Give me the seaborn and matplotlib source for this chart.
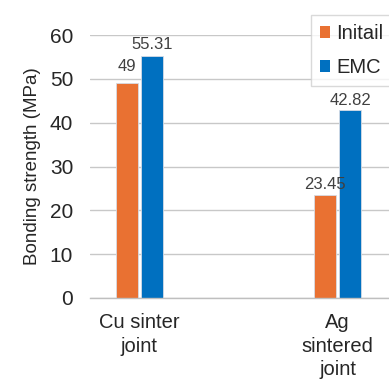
import matplotlib
matplotlib.use("Agg")
import matplotlib.pyplot as plt
import seaborn as sns
import pandas as pd
from matplotlib.patches import Patch

joints = ["Cu sinter\njoint", "Ag\nsintered\njoint"]
series = ["Initail", "EMC"]
initial_vals = [49, 23.45]
emc_vals = [55.31, 42.82]
yticks = [0, 10, 20, 30, 40, 50, 60]

colors = ["#E97132", "#0070C0"]

df = pd.DataFrame({
    "joint": joints * 2,
    "series": [series[0]] * 2 + [series[1]] * 2,
    "strength": initial_vals + emc_vals,
})

sns.set_theme(style="white")
plt.rcParams["font.family"] = ["Liberation Sans", "DejaVu Sans"]

fig = plt.figure(figsize=(3.89, 3.90), dpi=100)
ax = fig.add_axes([0.231, 0.236, 0.769, 0.674])

sns.barplot(data=df, x="joint", y="strength", hue="series", palette=colors,
            saturation=1, width=0.258, gap=0.14, ax=ax, legend=False,
            edgecolor="#D6DCE5", linewidth=0.6)

# value labels above each bar (the short "49" label sits a little higher)
label_pad = [[6.5, 2], [2.5, 2]]
for ci, cont in enumerate(ax.containers):
    for bi, bar in enumerate(cont):
        v = bar.get_height()
        ax.annotate(f"{v:g}", (bar.get_x() + bar.get_width() / 2, v),
                    xytext=(0, label_pad[ci][bi]), textcoords="offset points",
                    ha="center", va="bottom", fontsize=12, color="#404040")

ax.set_ylim(0, 60)
ax.set_yticks(yticks)
ax.set_xlim(-0.25, 1.26)
ax.yaxis.grid(True, color="#C8C8C8", linewidth=1.0)
ax.set_axisbelow(True)
for s in ["top", "right", "left"]:
    ax.spines[s].set_visible(False)
ax.spines["bottom"].set_color("#BFBFBF")
ax.spines["bottom"].set_linewidth(1.0)

ax.tick_params(axis="y", length=0, pad=12, labelsize=15, colors="#262626")
ax.tick_params(axis="x", length=0, pad=11, labelsize=14.5, colors="#262626")
for t in ax.get_xticklabels():
    t.set_linespacing(1.3)
ax.set_xlabel("")
ax.set_ylabel("Bonding strength (MPa)", fontsize=13.5, color="#262626", labelpad=6)

handles = [Patch(facecolor=c, edgecolor="none") for c in colors]
leg = fig.legend(handles, series, loc="upper left",
                 bbox_to_anchor=(311 / 389, 1 - 15 / 390),
                 bbox_transform=fig.transFigure,
                 fontsize=14.5, frameon=True, fancybox=False,
                 handlelength=0.5, handleheight=0.5, handletextpad=0.3,
                 labelspacing=0.75, borderpad=0.45, borderaxespad=0)
leg.get_frame().set_edgecolor("#D0D0D0")
leg.get_frame().set_linewidth(1.0)
for t in leg.get_texts():
    t.set_color("#262626")

fig.savefig("out.png", dpi=100)
